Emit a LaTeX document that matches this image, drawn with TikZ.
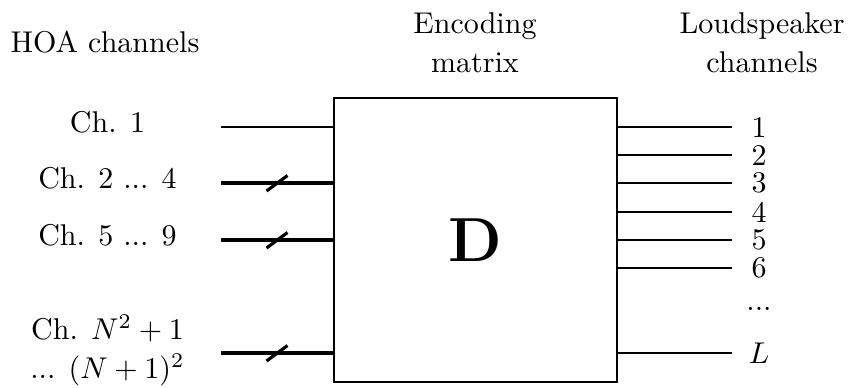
\documentclass[tikz,border=0pt]{standalone}
\usetikzlibrary{calc}
\begin{document}
\begin{tikzpicture}[x=0.333pt,y=-0.333pt,
  lbl/.style={inner sep=0pt,outer sep=0pt,anchor=center},
  txt/.style={inner sep=0pt,outer sep=0pt,anchor=base},
  thinline/.style={line width=0.4pt},
  thickline/.style={line width=1.05pt},
  slashmark/.style={line width=1.05pt}]
\useasboundingbox (0,0) rectangle (848,387);
% matrix box
\node[draw,line width=0.8pt,minimum width=283*0.333pt,minimum height=284*0.333pt,inner sep=0pt,outer sep=0pt] (D) at (475.5,240) {\huge$\mathbf{D}$};
% titles
\node[txt] (t1) at (105,52) {HOA channels};
\node[txt] (t2a) at (475,33) {Encoding};
\node[txt] (t2b) at (475,72) {matrix};
\node[txt] (t3a) at (762,33) {Loudspeaker};
\node[txt] (t3b) at (762,72) {channels};
% inputs
\coordinate (i1) at (221,127);
\coordinate (i2) at (221,183);
\coordinate (i3) at (221,240);
\coordinate (i4) at (221,353);
\node[txt] (c1) at (107.5,132) {Ch. 1};
\node[txt] (c2) at (107.5,188) {Ch. 2 ... 4};
\node[txt] (c3) at (107.5,245) {Ch. 5 ... 9};
\node[txt] (c4a) at (107.5,339) {Ch. $N^2+1$};
\node[txt] (c4b) at (107.5,378) {... $(N+1)^2$};
\draw[thinline] (i1) -- (i1 -| D.west);
\foreach \k in {2,3,4}{
  \draw[thickline] (i\k) -- (i\k -| D.west);
  \draw[slashmark] ($(i\k)+(56,0)$) ++(-10.5,8) -- ++(21,-15.5);
}
% outputs
\foreach \k/\yy/\t in {1/127/1,2/155/2,3/183/3,4/212/4,5/240/5,6/268/6,7/353/$L$}{
  \coordinate (o\k) at (732,\yy);
  \draw[thinline] (D.east |- o\k) -- (o\k);
  \node[lbl] (r\k) at (759,\yy) {\t};
}
\node[lbl] (rdots) at (759,309) {...};
\end{tikzpicture}
\end{document}
